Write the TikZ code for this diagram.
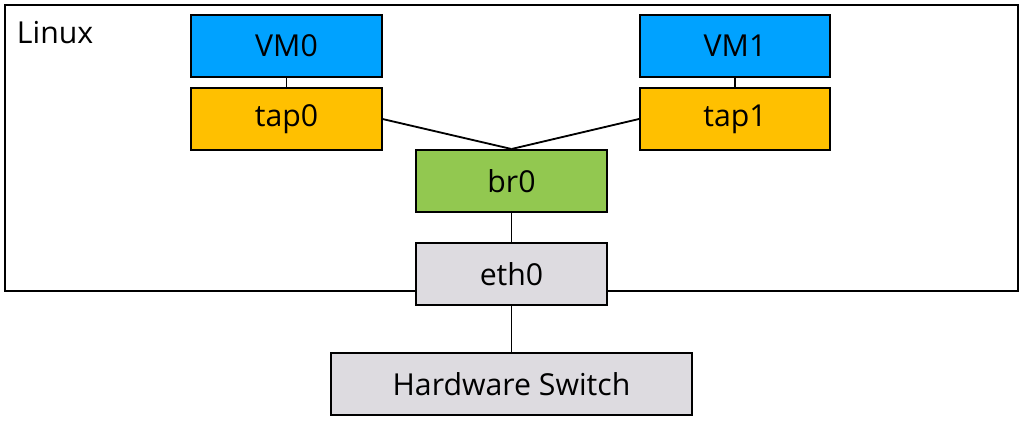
\documentclass[tikz,border=0pt]{standalone}
\usepackage{fontspec}
\setmainfont{Open Sans}
\usepackage{tikz}
\usetikzlibrary{positioning}

\definecolor{vmblue}{RGB}{0,162,255}
\definecolor{tapyellow}{RGB}{255,192,0}
\definecolor{brgreen}{RGB}{146,200,80}
\definecolor{ethgray}{RGB}{221,219,224}

\tikzset{
	netbox/.style={draw=black, line width=1.4pt, minimum width=4.75cm, minimum height=1.55cm, inner sep=0pt, font=\fontsize{21.5}{24}\selectfont},
	wire/.style={line width=1.3pt}
}

\begin{document}
\begin{tikzpicture}[x=0.025cm, y=-0.025cm]
		\useasboundingbox (0,0) rectangle (1022,421);

		% Host frame
		\draw[line width=1.4pt] (5,5) rectangle (1018,291);
		\node[anchor=west, font=\fontsize{21.5}{24}\selectfont] (linux) at (12,33) {Linux};

		% Guests and their taps
		\node[netbox, fill=vmblue] (vm0) at (286.5,46) {VM0};
		\node[netbox, fill=tapyellow] (tap0) at (286.5,119) {tap0};
		\node[netbox, fill=vmblue] (vm1) at (735,46) {VM1};
		\node[netbox, fill=tapyellow] (tap1) at (735,119) {tap1};

		% Bridge and uplink
		\node[netbox, fill=brgreen] (br0) at (511.5,181) {br0};
		\node[netbox, fill=ethgray] (eth0) at (511.5,274) {eth0};
		\node[netbox, fill=ethgray, minimum width=9.02cm] (hwsw) at (511.5,384) {Hardware Switch};

		\draw[wire] (vm0) -- (tap0);
		\draw[wire] (vm1) -- (tap1);
		\draw[wire] (tap0.east) -- (br0.north);
		\draw[wire] (tap1.west) -- (br0.north);
		\draw[wire] (br0) -- (eth0);
		\draw[wire] (eth0) -- (hwsw);
	\end{tikzpicture}
\end{document}
